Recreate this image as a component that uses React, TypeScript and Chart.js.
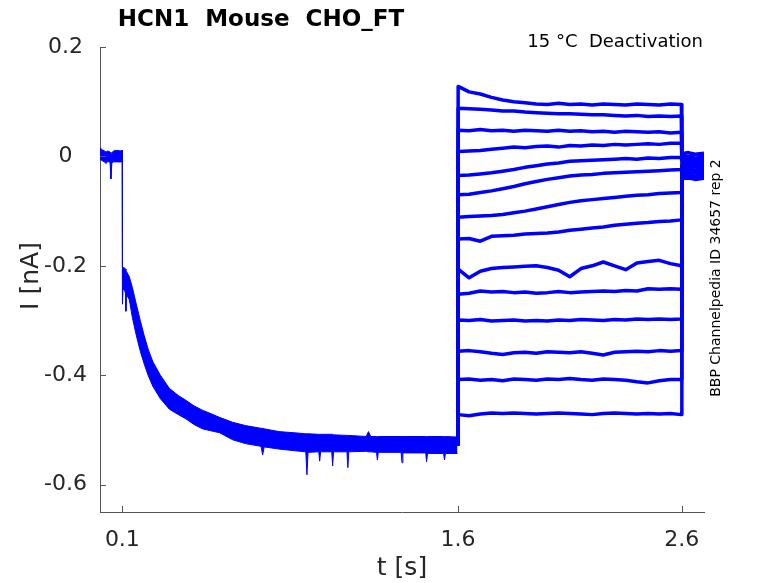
import { useEffect, useRef } from "react";
import { Chart, registerables } from "chart.js";

Chart.register(...registerables);

// axis ticks
const X_TICKS = [0.1, 1.6, 2.6];
const Y_TICKS = [-0.6, -0.4, -0.2, 0, 0.2];

// holding + activation part, shared by all sweeps (upper / lower edge of the noise band)
const holdT = [
  0, 0.01, 0.02, 0.027, 0.035, 0.045, 0.049, 0.053, 0.06, 0.07, 0.08, 0.09, 0.0995,
  0.1005, 0.103, 0.11, 0.114, 0.116, 0.118, 0.131, 0.145, 0.161, 0.18, 0.198, 0.215,
  0.236, 0.27, 0.31, 0.35, 0.385, 0.42, 0.458, 0.5, 0.534, 0.593, 0.65, 0.72, 0.727,
  0.734, 0.8, 0.893, 0.92, 0.925, 0.93, 0.978, 0.982, 0.986, 1.036, 1.04, 1.044,
  1.104, 1.108, 1.112, 1.19, 1.2, 1.21, 1.236, 1.24, 1.244, 1.346, 1.35, 1.354,
  1.456, 1.46, 1.464, 1.536, 1.54, 1.544, 1.598,
];
const holdUpper = [
  0.016, 0.012, 0.01, 0.008, 0.01, 0.008, -0.005, 0.006, 0.01, 0.011, 0.011, 0.01, 0.011,
  -0.203, -0.203, -0.204, -0.206, -0.208, -0.21, -0.22, -0.24, -0.268, -0.3, -0.328, -0.352,
  -0.375, -0.4, -0.424, -0.437, -0.446, -0.456, -0.464, -0.471, -0.477, -0.486, -0.492, -0.497, -0.497,
  -0.498, -0.503, -0.506, -0.507, -0.507, -0.507, -0.508, -0.508, -0.508, -0.508, -0.508, -0.509,
  -0.51, -0.51, -0.51, -0.512, -0.503, -0.512, -0.512, -0.512, -0.512, -0.512, -0.512, -0.512,
  -0.512, -0.512, -0.512, -0.512, -0.512, -0.512, -0.513,
];
const holdLower = [
  -0.005, -0.008, -0.01, -0.013, -0.009, -0.011, -0.041, -0.012, -0.01, -0.01, -0.01, -0.01, -0.01,
  -0.27, -0.242, -0.245, -0.25, -0.283, -0.252, -0.262, -0.295, -0.325, -0.356, -0.38, -0.4,
  -0.42, -0.443, -0.462, -0.472, -0.48, -0.49, -0.498, -0.502, -0.505, -0.518, -0.525, -0.53, -0.546,
  -0.531, -0.535, -0.539, -0.54, -0.582, -0.541, -0.54, -0.557, -0.54, -0.54, -0.566, -0.54,
  -0.54, -0.569, -0.54, -0.539, -0.54, -0.54, -0.541, -0.555, -0.541, -0.541, -0.56, -0.542,
  -0.542, -0.558, -0.543, -0.543, -0.555, -0.543, -0.543,
];
const HOLD_END = -0.528;

// deactivation steps (one array per sweep)
const tailT = [
  1.601, 1.65, 1.7, 1.75, 1.8, 1.85, 1.9, 1.95, 2.0, 2.05, 2.1,
  2.15, 2.2, 2.25, 2.3, 2.35, 2.4, 2.45, 2.5, 2.55, 2.599,
];
const sweep01 = [0.128, 0.118, 0.114, 0.108, 0.103, 0.1, 0.098, 0.096, 0.095, 0.097, 0.095, 0.096, 0.094, 0.096, 0.095, 0.094, 0.096, 0.095, 0.094, 0.096, 0.095];
const sweep02 = [0.088, 0.087, 0.086, 0.085, 0.083, 0.083, 0.081, 0.08, 0.079, 0.078, 0.078, 0.077, 0.076, 0.076, 0.075, 0.074, 0.075, 0.073, 0.074, 0.073, 0.074];
const sweep03 = [0.048, 0.047, 0.049, 0.047, 0.048, 0.046, 0.048, 0.047, 0.046, 0.048, 0.046, 0.047, 0.045, 0.046, 0.044, 0.046, 0.045, 0.044, 0.045, 0.043, 0.044];
const sweep04 = [0.009, 0.01, 0.011, 0.013, 0.015, 0.017, 0.016, 0.018, 0.019, 0.017, 0.02, 0.019, 0.021, 0.02, 0.022, 0.021, 0.022, 0.023, 0.022, 0.024, 0.024];
const sweep05 = [-0.035, -0.034, -0.032, -0.03, -0.027, -0.024, -0.02, -0.017, -0.014, -0.012, -0.009, -0.008, -0.007, -0.006, -0.005, -0.004, -0.005, -0.003, -0.004, -0.002, -0.002];
const sweep06 = [-0.07, -0.069, -0.066, -0.063, -0.059, -0.055, -0.05, -0.046, -0.042, -0.039, -0.036, -0.034, -0.033, -0.031, -0.03, -0.029, -0.028, -0.027, -0.026, -0.025, -0.024];
const sweep07 = [-0.111, -0.11, -0.109, -0.108, -0.106, -0.103, -0.1, -0.096, -0.092, -0.088, -0.084, -0.081, -0.079, -0.077, -0.075, -0.073, -0.071, -0.07, -0.068, -0.067, -0.066];
const sweep08 = [-0.151, -0.15, -0.155, -0.146, -0.145, -0.144, -0.142, -0.141, -0.14, -0.138, -0.135, -0.133, -0.131, -0.129, -0.126, -0.124, -0.122, -0.121, -0.119, -0.118, -0.116];
const sweep09 = [-0.206, -0.222, -0.21, -0.205, -0.203, -0.202, -0.201, -0.2, -0.203, -0.208, -0.22, -0.205, -0.2, -0.193, -0.2, -0.207, -0.195, -0.192, -0.19, -0.196, -0.2];
const sweep10 = [-0.252, -0.25, -0.246, -0.248, -0.247, -0.249, -0.248, -0.25, -0.249, -0.247, -0.249, -0.248, -0.247, -0.246, -0.247, -0.245, -0.246, -0.242, -0.243, -0.242, -0.243];
const sweep11 = [-0.299, -0.3, -0.298, -0.301, -0.3, -0.299, -0.301, -0.3, -0.301, -0.299, -0.3, -0.298, -0.299, -0.3, -0.298, -0.299, -0.297, -0.298, -0.297, -0.298, -0.297];
const sweep12 = [-0.356, -0.355, -0.357, -0.36, -0.362, -0.359, -0.358, -0.36, -0.357, -0.358, -0.359, -0.357, -0.36, -0.363, -0.358, -0.357, -0.356, -0.357, -0.355, -0.356, -0.355];
const sweep13 = [-0.408, -0.407, -0.409, -0.408, -0.41, -0.407, -0.408, -0.409, -0.407, -0.408, -0.406, -0.408, -0.409, -0.407, -0.408, -0.409, -0.412, -0.414, -0.41, -0.408, -0.408];
const sweep14 = [-0.472, -0.474, -0.471, -0.469, -0.47, -0.469, -0.47, -0.471, -0.47, -0.469, -0.47, -0.471, -0.472, -0.47, -0.469, -0.47, -0.471, -0.47, -0.471, -0.47, -0.472];
const tailSweeps = [sweep01, sweep02, sweep03, sweep04, sweep05, sweep06, sweep07, sweep08, sweep09, sweep10, sweep11, sweep12, sweep13, sweep14];

// back to holding after 2.6 s
const postT = [2.601, 2.63, 2.66, 2.7];
const postSweeps = [
  [0.005, 0.007, 0.004, 0.006],
  [0.002, 0.0, 0.003, 0.001],
  [-0.003, -0.001, -0.004, -0.002],
  [-0.006, -0.008, -0.005, -0.007],
  [-0.01, -0.009, -0.011, -0.01],
  [-0.013, -0.015, -0.012, -0.014],
  [-0.017, -0.016, -0.018, -0.016],
  [-0.02, -0.022, -0.019, -0.021],
  [-0.024, -0.023, -0.025, -0.024],
  [-0.028, -0.027, -0.029, -0.027],
  [-0.031, -0.033, -0.03, -0.032],
  [-0.035, -0.034, -0.036, -0.035],
  [-0.038, -0.04, -0.037, -0.039],
  [-0.041, -0.039, -0.042, -0.04],
];

const BLUE = "#0000ff";
const AXIS = "#555555";
const FONT = "DejaVu Sans";

const decorPlugin = {
  id: "decor",
  afterDraw(chart: any) {
    const { ctx, chartArea, scales } = chart;
    ctx.save();
    // inward tick marks
    ctx.strokeStyle = AXIS;
    ctx.lineWidth = 1;
    ctx.beginPath();
    for (const v of Y_TICKS) {
      const py = Math.round(scales.y.getPixelForValue(v)) + 0.5;
      ctx.moveTo(chartArea.left, py);
      ctx.lineTo(chartArea.left + 6, py);
    }
    for (const v of X_TICKS) {
      const px = Math.round(scales.x.getPixelForValue(v)) + 0.5;
      ctx.moveTo(px, chartArea.bottom);
      ctx.lineTo(px, chartArea.bottom - 6);
    }
    ctx.stroke();

    ctx.fillStyle = "#000";
    ctx.textBaseline = "alphabetic";
    ctx.textAlign = "center";
    ctx.font = `bold 23px "${FONT}"`;
    ctx.fillText("HCN1  Mouse  CHO_FT", 261, 26);

    ctx.font = `18px "${FONT}"`;
    ctx.textAlign = "right";
    ctx.fillText("15 °C  Deactivation", 703, 47);

    ctx.fillStyle = "#262626";
    ctx.font = `25px "${FONT}"`;
    ctx.textAlign = "center";
    ctx.fillText("t [s]", 402, 575);

    ctx.save();
    ctx.translate(31, 276);
    ctx.rotate(-Math.PI / 2);
    ctx.textBaseline = "middle";
    ctx.fillText("I [nA]", 0, 0);
    ctx.restore();

    ctx.save();
    ctx.fillStyle = "#000";
    ctx.font = `14px "${FONT}"`;
    ctx.translate(716, 278);
    ctx.rotate(-Math.PI / 2);
    ctx.textBaseline = "middle";
    ctx.fillText("BBP Channelpedia ID 34657 rep 2", 0, 0);
    ctx.restore();

    ctx.restore();
  },
};

export default function App() {
  const canvasRef = useRef<HTMLCanvasElement>(null);

  useEffect(() => {
    const ctx = canvasRef.current;
    if (!ctx) return;

    const datasets: any[] = [
      {
        data: holdT.map((t, i) => ({ x: t, y: holdUpper[i] })),
        borderColor: BLUE,
        backgroundColor: BLUE,
        borderWidth: 1,
        fill: "+1",
      },
      {
        data: holdT.map((t, i) => ({ x: t, y: holdLower[i] })),
        borderColor: BLUE,
        borderWidth: 1,
        fill: false,
      },
      ...tailSweeps.map((sweep, k) => ({
        data: [
          { x: 1.6, y: HOLD_END },
          ...tailT.map((t, i) => ({ x: t, y: sweep[i] })),
          ...postT.map((t, i) => ({ x: t, y: postSweeps[k][i] })),
        ],
        borderColor: BLUE,
        borderWidth: 3.5,
        borderJoinStyle: "round",
        fill: false,
      })),
    ];

    const tickFont = { family: FONT, size: 22 };

    const myChart = new Chart(ctx, {
      type: "line",
      data: { datasets },
      options: {
        animation: false,
        responsive: true,
        maintainAspectRatio: false,
        layout: { padding: { left: 0, right: 74, top: 47, bottom: 0 } },
        elements: { point: { radius: 0 }, line: { tension: 0 } },
        plugins: {
          legend: { display: false },
          tooltip: { enabled: false },
          title: { display: false },
        },
        scales: {
          x: {
            type: "linear",
            min: 0,
            max: 2.7,
            grid: { display: false, drawTicks: false },
            border: { display: true, color: AXIS, width: 1 },
            afterBuildTicks: (s: any) => {
              s.ticks = X_TICKS.map((v) => ({ value: v }));
            },
            afterFit: (s: any) => {
              s.height = 71;
            },
            ticks: {
              font: tickFont,
              color: "#262626",
              padding: 15,
              maxRotation: 0,
              autoSkip: false,
              callback: (v: any) => String(v),
            },
          },
          y: {
            type: "linear",
            min: -0.65,
            max: 0.2,
            grid: { display: false, drawTicks: false },
            border: { display: true, color: AXIS, width: 1 },
            afterBuildTicks: (s: any) => {
              s.ticks = Y_TICKS.map((v) => ({ value: v }));
            },
            afterFit: (s: any) => {
              s.width = 100;
            },
            ticks: {
              font: tickFont,
              color: "#262626",
              padding: 13,
              crossAlign: "center",
              autoSkip: false,
              callback: (v: any) => String(Math.round(v * 10) / 10),
            },
          },
        },
      },
      plugins: [decorPlugin],
    });

    return () => {
      myChart.destroy();
    };
  }, []);

  return (
    <div style={{ position: "absolute", left: 0, top: 0, width: 778, height: 583 }}>
      <canvas ref={canvasRef}></canvas>
    </div>
  );
}
